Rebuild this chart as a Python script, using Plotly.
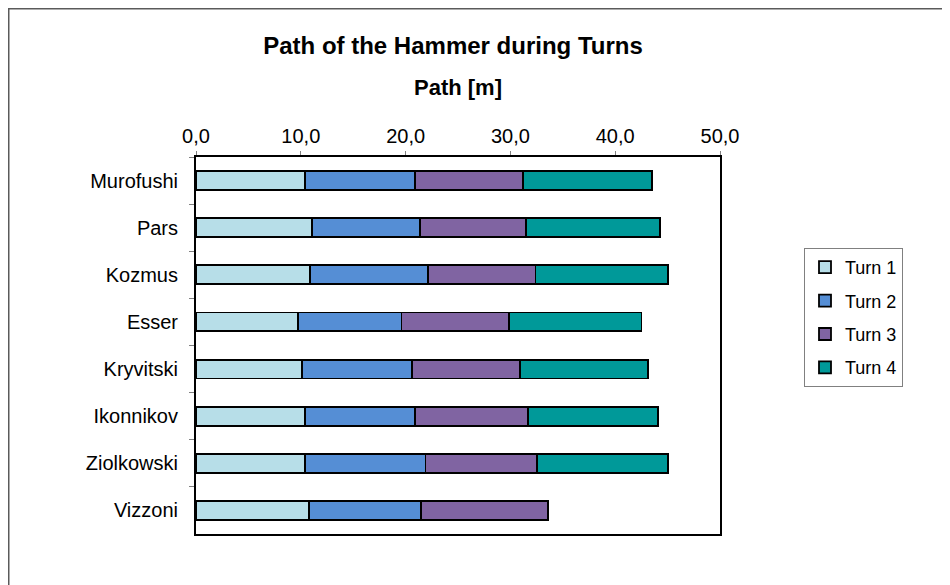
import plotly.graph_objects as go

athletes = ["Murofushi", "Pars", "Kozmus", "Esser", "Kryvitski", "Ikonnikov", "Ziolkowski", "Vizzoni"]
turn1 = [10.4, 11.1, 10.9, 9.7, 10.1, 10.4, 10.4, 10.8]
turn2 = [10.5, 10.3, 11.2, 9.9, 10.5, 10.5, 11.5, 10.7]
turn3 = [10.3, 10.1, 10.3, 10.3, 10.3, 10.8, 10.6, 12.1]
turn4 = [12.3, 12.8, 12.6, 12.6, 12.2, 12.4, 12.5, None]
series_names = ["Turn 1", "Turn 2", "Turn 3", "Turn 4"]
x_ticks = [0, 10, 20, 30, 40, 50]

colors = ["#B7DEE8", "#558ED5", "#8064A2", "#009999"]
FONT = "Liberation Sans, Arial, sans-serif"

fig = go.Figure()
for i, (name, vals) in enumerate(zip(series_names, [turn1, turn2, turn3, turn4])):
    fig.add_trace(go.Bar(
        y=athletes, x=vals, name=name, orientation="h",
        marker=dict(color=colors[i], line=dict(color="black", width=1.8)),
        legendgroup=name,
    ))

# page body has an 8px margin; figure coordinates = reference pixels - 8
OFF = 8
W, H = 950 - OFF, 585 - OFF
L, T = 196 - OFF, 157 - OFF
PR, PB = 720 - OFF, 534 - OFF
R, B = W - PR, H - PB
pw, ph = PR - L, PB - T

def px_x(x):
    return (x - OFF - L) / pw

def px_y(y):
    return (PB - (y - OFF)) / ph

fig.update_layout(
    width=W, height=H,
    barmode="stack", bargap=0.6,
    margin=dict(l=L, r=R, t=T, b=B),
    paper_bgcolor="white", plot_bgcolor="white",
    font=dict(family=FONT, size=20, color="black"),
    title=dict(text="<b>Path of the Hammer during Turns</b>", x=(453 - OFF) / W, xanchor="center",
               y=1 - (46 - OFF) / H, yanchor="middle", yref="container",
               font=dict(family=FONT, size=24, color="black")),
    xaxis=dict(
        side="top", range=[0, 50], tickvals=x_ticks, tickformat=".1f",
        showgrid=False, zeroline=False,
        showline=True, linecolor="black", linewidth=2, mirror=True,
        ticks="outside", ticklen=4, tickcolor="#808080", tickwidth=1,
        tickfont=dict(family=FONT, size=20),
        title=dict(text="<b>Path [m]</b>", font=dict(family=FONT, size=22), standoff=23),
    ),
    yaxis=dict(
        autorange="reversed", showgrid=False,
        showline=True, linecolor="black", linewidth=2, mirror=True,
        ticks="outside", ticklen=5, tickcolor="#808080", tickwidth=1,
        tickson="boundaries", ticklabelstandoff=12,
        tickfont=dict(family=FONT, size=20),
    ),
    separators=", ",
    legend=dict(
        x=px_x(804), y=px_y(248), xanchor="left", yanchor="top",
        bordercolor="#808080", borderwidth=1, bgcolor="white",
        font=dict(family=FONT, size=18), traceorder="grouped",
        tracegroupgap=7, itemwidth=30,
    ),
    shapes=[dict(type="rect", xref="paper", yref="paper",
                 x0=(0.75 - L) / pw, x1=(W + 50 - L) / pw,
                 y0=(PB - (H + 50)) / ph, y1=(PB - 0.75) / ph,
                 line=dict(color="#5a5a5a", width=1.5), fillcolor="rgba(0,0,0,0)",
                 layer="below")],
)

fig.write_html("out.html")
